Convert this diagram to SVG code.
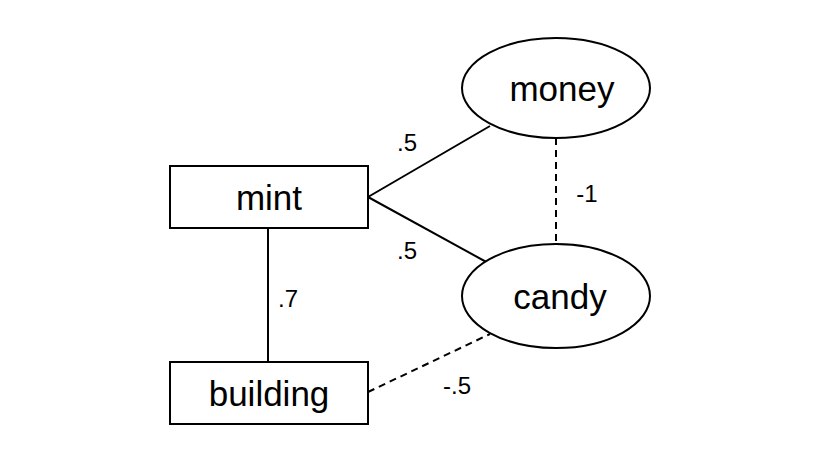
<svg xmlns="http://www.w3.org/2000/svg" width="820" height="466" viewBox="0 0 820 466">
<style>
.n{fill:#fff;stroke:#000;stroke-width:2}
.t{font-family:"Liberation Sans",Arial,sans-serif;font-size:35px;text-anchor:middle;fill:#000}
.l{font-family:"Liberation Sans",Arial,sans-serif;font-size:24px;text-anchor:middle;fill:#000}
.e{stroke:#000;stroke-width:2;fill:none}
.d{stroke-dasharray:7,5}
</style>
<rect width="820" height="466" fill="#fff"/>
<g id="connectors">
<line class="e" x1="368" y1="197" x2="490" y2="126"/>
<line class="e" x1="368" y1="197" x2="490" y2="264"/>
<line class="e" x1="268" y1="228" x2="268" y2="362"/>
<line class="e d" x1="556" y1="138" x2="556" y2="244"/>
<line class="e d" x1="368" y1="392" x2="490" y2="334"/>
<text class="l" x="407" y="151">.5</text>
<text class="l" x="407" y="259">.5</text>
<text class="l" x="587" y="202">-1</text>
<text class="l" x="288" y="307">.7</text>
<text class="l" x="457" y="394">-.5</text>
</g>
<g id="mint"><rect class="n" x="170" y="166" width="198" height="62"/><text class="t" x="269" y="210">mint</text></g>
<g id="building"><rect class="n" x="170" y="362" width="198" height="62"/><text class="t" x="269" y="406">building</text></g>
<g id="money"><ellipse class="n" cx="556" cy="88" rx="94" ry="50"/><text class="t" x="562" y="101">money</text></g>
<g id="candy"><ellipse class="n" cx="556" cy="296" rx="94" ry="52"/><text class="t" x="560" y="309">candy</text></g>
</svg>
